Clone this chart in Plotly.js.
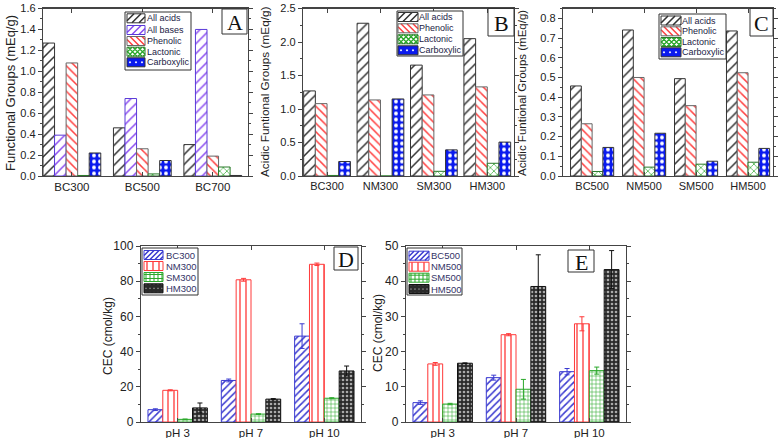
<!DOCTYPE html>
<html><head><meta charset="utf-8">
<script src="https://cdn.plot.ly/plotly-3.0.1.min.js"></script>
<style>html,body{margin:0;padding:0;background:#fff}#chart{width:780px;height:438px}</style>
</head><body><div id="chart"></div>
<script>
// ---------- DATA ----------
// Panel A
const catsA = ['BC300', 'BC500', 'BC700'];
const acidsA = [1.27, 0.46, 0.30];
const basesA = [0.39, 0.74, 1.40];
const phenolicA = [1.08, 0.26, 0.19];
const lactonicA = [0.005, 0.02, 0.086];
const carboxylicA = [0.22, 0.148, 0.005];
const yTicksA = [0, 0.2, 0.4, 0.6, 0.8, 1.0, 1.2, 1.4, 1.6];
const yTickTextA = ['0.0', '0.2', '0.4', '0.6', '0.8', '1.0', '1.2', '1.4', '1.6'];
// Panel B
const catsB = ['BC300', 'NM300', 'SM300', 'HM300'];
const acidsB = [1.27, 2.28, 1.655, 2.05];
const phenolicB = [1.08, 1.135, 1.21, 1.33];
const lactonicB = [0.008, 0.0, 0.07, 0.19];
const carboxylicB = [0.216, 1.15, 0.39, 0.506];
const yTicksB = [0, 0.5, 1.0, 1.5, 2.0, 2.5];
const yTickTextB = ['0.0', '0.5', '1.0', '1.5', '2.0', '2.5'];
// Panel C
const catsC = ['BC500', 'NM500', 'SM500', 'HM500'];
const acidsC = [0.457, 0.741, 0.494, 0.736];
const phenolicC = [0.265, 0.50, 0.357, 0.524];
const lactonicC = [0.023, 0.045, 0.06, 0.07];
const carboxylicC = [0.145, 0.217, 0.075, 0.14];
const yTicksC = [0, 0.1, 0.2, 0.3, 0.4, 0.5, 0.6, 0.7, 0.8];
const yTickTextC = ['0.0', '0.1', '0.2', '0.3', '0.4', '0.5', '0.6', '0.7', '0.8'];
// Panel D
const phCats = ['pH 3', 'pH 7', 'pH 10'];
const bc300 = [7.0, 23.6, 48.8];  const bc300Err = [0.5, 0.8, 7.0];
const nm300 = [18.0, 80.8, 89.6]; const nm300Err = [0.3, 0.8, 0.7];
const sm300 = [1.5, 4.5, 13.5];   const sm300Err = [0.2, 0.2, 0.3];
const hm300 = [8.0, 13.0, 29.0];  const hm300Err = [2.8, 0.3, 2.8];
const yTicksD = [0, 20, 40, 60, 80, 100];
// Panel E
const bc500 = [5.5, 12.6, 14.3];  const bc500Err = [0.5, 0.7, 0.9];
const nm500 = [16.5, 24.8, 27.9]; const nm500Err = [0.4, 0.3, 2.0];
const sm500 = [5.1, 9.3, 14.6];   const sm500Err = [0.2, 2.8, 1.0];
const hm500 = [16.7, 38.5, 43.3]; const hm500Err = [0.1, 9.0, 5.4];
const yTicksE = [0, 10, 20, 30, 40, 50];

// ---------- STYLES ----------
const ST = {
  acids:  {bg:'#ffffff', fg:'#333333', shape:'/',  size:7, sol:0.22, line:'#333333'},
  bases:  {bg:'#ffffff', fg:'#8a4cf0', shape:'/',  size:7, sol:0.22, line:'#5a3ad8'},
  phen:   {bg:'#ffffff', fg:'#ff4040', shape:'\\', size:6, sol:0.25, line:'#666666'},
  lact:   {bg:'#ffffff', fg:'#2aa82a', shape:'x',  size:5, sol:0.25, line:'#2a7a2a'},
  carb:   {bg:'#0a1aee', fg:'#ffffff', shape:'.',  size:6, sol:0.32, line:'#333333'},
  BC:     {bg:'#ffffff', fg:'#3a3ad0', shape:'/',  size:5, sol:0.3, line:'#3a3ad0'},
  NM:     {bg:'#ffffff', fg:'#ff3a3a', shape:'|',  size:6, sol:0.22, line:'#ff3a3a'},
  SM:     {bg:'#ffffff', fg:'#2aa82a', shape:'+',  size:4, sol:0.25, line:'#2aa82a'},
  HM:     {bg:'#2a2a2a', fg:'#aaaaaa', shape:'.',  size:4, sol:0.35, line:'#111111'}
};

const W = 780, H = 438;
const px = x => x / W, py = y => 1 - y / H;

function bar(x, y, st, n, i, gw, ax, err) {
  const w = gw / n;
  const t = {
    type:'bar', x:x, y:y, xaxis:'x'+ax, yaxis:'y'+ax,
    width:w, offset:-gw/2 + i*w, showlegend:false, hoverinfo:'skip',
    marker:{color:st.bg, line:{color:st.line, width:1},
      pattern:{shape:st.shape, bgcolor:st.bg, fgcolor:st.fg, size:st.size, solidity:st.sol, fillmode:'replace'}}
  };
  if (err) t.error_y = {type:'data', array:err, visible:true, color:st.line, thickness:1, width:2.5};
  return t;
}

const data = [
  bar(catsA, acidsA, ST.acids, 5, 0, 0.82, ''),
  bar(catsA, basesA, ST.bases, 5, 1, 0.82, ''),
  bar(catsA, phenolicA, ST.phen, 5, 2, 0.82, ''),
  bar(catsA, lactonicA, ST.lact, 5, 3, 0.82, ''),
  bar(catsA, carboxylicA, ST.carb, 5, 4, 0.82, ''),
  bar(catsB, acidsB, ST.acids, 4, 0, 0.875, '2'),
  bar(catsB, phenolicB, ST.phen, 4, 1, 0.875, '2'),
  bar(catsB, lactonicB, ST.lact, 4, 2, 0.875, '2'),
  bar(catsB, carboxylicB, ST.carb, 4, 3, 0.875, '2'),
  bar(catsC, acidsC, ST.acids, 4, 0, 0.83, '3'),
  bar(catsC, phenolicC, ST.phen, 4, 1, 0.83, '3'),
  bar(catsC, lactonicC, ST.lact, 4, 2, 0.83, '3'),
  bar(catsC, carboxylicC, ST.carb, 4, 3, 0.83, '3'),
  bar(phCats, bc300, ST.BC, 4, 0, 0.81, '4', bc300Err),
  bar(phCats, nm300, ST.NM, 4, 1, 0.81, '4', nm300Err),
  bar(phCats, sm300, ST.SM, 4, 2, 0.81, '4', sm300Err),
  bar(phCats, hm300, ST.HM, 4, 3, 0.81, '4', hm300Err),
  bar(phCats, bc500, ST.BC, 4, 0, 0.81, '5', bc500Err),
  bar(phCats, nm500, ST.NM, 4, 1, 0.81, '5', nm500Err),
  bar(phCats, sm500, ST.SM, 4, 2, 0.81, '5', sm500Err),
  bar(phCats, hm500, ST.HM, 4, 3, 0.81, '5', hm500Err)
];

const FONT = 'Liberation Sans, Arial, sans-serif';
function xax(x0, x1, range, anchor, fs) {
  return {domain:[px(x0), px(x1)], anchor:anchor, type:'category', range:range,
    showline:true, linecolor:'#444', linewidth:1.2, mirror:'ticks',
    ticks:'inside', ticklen:4, tickcolor:'#444', showgrid:false, zeroline:false,
    tickfont:{family:FONT, size:fs, color:'#222'}, fixedrange:true};
}
function yax(y0, y1, range, vals, text, anchor, fs) {
  return {domain:[py(y1), py(y0)], anchor:anchor, range:range,
    tickmode:'array', tickvals:vals, ticktext:text,
    showline:true, linecolor:'#444', linewidth:1.2, mirror:'ticks',
    ticks:'outside', ticklen:4, tickcolor:'#444', showgrid:false, zeroline:false,
    minor:{ticks:'outside', ticklen:2, tickcolor:'#444', showgrid:false},
    tickfont:{family:FONT, size:fs, color:'#222'}, fixedrange:true};
}

const TOP = 8.5;   // top of the three upper panels (keeps the top tick label inside the page)
const layout = {
  width:W, height:H, margin:{l:0, r:0, t:0, b:0},
  paper_bgcolor:'#fff', plot_bgcolor:'#fff', barmode:'overlay', showlegend:false,
  font:{family:FONT, color:'#222'},
  xaxis:  xax(43, 248, [-0.41, 2.5], 'y', 11.5),
  yaxis:  yax(TOP, 176, [0, 1.6], yTicksA, yTickTextA, 'x', 11),
  xaxis2: xax(303, 514, [-0.45, 3.5], 'y2', 11),
  yaxis2: yax(TOP, 176, [0, 2.5], yTicksB, yTickTextB, 'x2', 11),
  xaxis3: xax(563, 773, [-0.56, 3.48], 'y3', 11),
  yaxis3: yax(TOP, 176, [0, 0.85], yTicksC, yTickTextC, 'x3', 11),
  xaxis4: xax(141, 361, [-0.5, 2.5], 'y4', 11.5),
  yaxis4: yax(246, 422, [0, 100], yTicksD, yTicksD.map(String), 'x4', 12),
  xaxis5: xax(406, 626, [-0.5, 2.5], 'y5', 11.5),
  yaxis5: yax(246, 422, [0, 50], yTicksE, yTicksE.map(String), 'x5', 12),
  annotations:[], shapes:[]
};
// minor tick spacing
layout.yaxis.minor.dtick = 0.1; layout.yaxis2.minor.dtick = 0.25; layout.yaxis3.minor.dtick = 0.05;
layout.yaxis4.minor.dtick = 10; layout.yaxis5.minor.dtick = 5;

// y-axis titles
function ytitle(text, x, y, fs) {
  layout.annotations.push({text:text, xref:'paper', yref:'paper', x:px(x), y:py(y),
    xanchor:'center', yanchor:'middle', textangle:-90, showarrow:false,
    font:{family:FONT, size:fs, color:'#222'}});
}
ytitle('Functional Groups (mEq/g)', 11, 93, 13);
ytitle('Acidic Funtional Groups (mEq/g)', 265, 92, 11.8);
ytitle('Acidic Funtional Groups (mEq/g)', 522, 93, 11.5);
ytitle('CEC (cmol/kg)', 108, 336, 12);
ytitle('CEC (cmol/kg)', 378, 333, 12);

// panel letters
function letter(t, x0, y0, x1, y1) {
  layout.shapes.push({type:'rect', xref:'paper', yref:'paper', x0:px(x0), x1:px(x1), y0:py(y0), y1:py(y1),
    line:{color:'#333', width:1}, fillcolor:'#fff', layer:'above'});
  layout.annotations.push({text:t, xref:'paper', yref:'paper', x:px((x0+x1)/2), y:py((y0+y1)/2 + 1),
    xanchor:'center', yanchor:'middle', showarrow:false,
    font:{family:'Liberation Serif, Times New Roman, serif', size:22, color:'#111'}});
}
letter('A', 222, 9, 247, 34);
letter('B', 488, 8.5, 514, 36);
letter('C', 750, 8.5, 773, 36);
letter('D', 334, 247, 358, 270);
letter('E', 568, 250, 594, 272);

// manual legends: swatches built from shapes (pixel -> paper)
const P = (x, y) => px(x).toFixed(5) + ',' + py(y).toFixed(5);
function swatch(st, x0, y0, w, h) {
  const x1 = x0 + w, y1 = y0 + h, z = st.size, lw = Math.max(0.8, st.sol * z);
  layout.shapes.push({type:'rect', xref:'paper', yref:'paper', x0:px(x0), x1:px(x1), y0:py(y1), y1:py(y0),
    line:{width:0}, fillcolor:st.bg, layer:'above'});
  let path = '';
  const seg = (ax, ay, bx, by) => { path += 'M' + P(ax, ay) + 'L' + P(bx, by); };
  if (st.shape === '/' || st.shape === 'x') {
    for (let k = -h; k < w; k += z) {
      const t0 = Math.max(0, -k), t1 = Math.min(h, w - k);
      if (t1 > t0) seg(x0 + k + t0, y1 - t0, x0 + k + t1, y1 - t1);
    }
  }
  if (st.shape === '\\' || st.shape === 'x') {
    for (let k = -h; k < w; k += z) {
      const t0 = Math.max(0, -k), t1 = Math.min(h, w - k);
      if (t1 > t0) seg(x0 + k + t0, y0 + t0, x0 + k + t1, y0 + t1);
    }
  }
  if (st.shape === '|' || st.shape === '+') for (let k = z/2; k < w; k += z) seg(x0 + k, y0, x0 + k, y1);
  if (st.shape === '+') for (let k = z/2; k < h; k += z) seg(x0, y0 + k, x1, y0 + k);
  if (path) layout.shapes.push({type:'path', xref:'paper', yref:'paper', path:path,
    line:{color:st.fg, width:lw}, layer:'above'});
  if (st.shape === '.') {
    let dp = '';
    const r = Math.max(0.8, st.sol * z / 1.6);
    for (let a = x0 + z/2; a < x1; a += z) for (let b = y0 + h/2 - Math.floor(h/2/z)*z; b < y1; b += z) {
      const rr = Math.min(r, a - x0, x1 - a, b - y0, y1 - b);
      if (rr <= 0.3) continue;
      dp += 'M' + P(a - rr, b) + 'L' + P(a, b - rr) + 'L' + P(a + rr, b) + 'L' + P(a, b + rr) + 'Z';
    }
    if (dp) layout.shapes.push({type:'path', xref:'paper', yref:'paper', path:dp,
      line:{width:0}, fillcolor:st.fg, layer:'above'});
  }
  layout.shapes.push({type:'rect', xref:'paper', yref:'paper', x0:px(x0), x1:px(x1), y0:py(y1), y1:py(y0),
    line:{color:st.line, width:1}, fillcolor:'rgba(0,0,0,0)', layer:'above'});
}
function legend(box, items, sx0, sx1, tx, rows, sh, fs, tcolor) {
  layout.shapes.push({type:'rect', xref:'paper', yref:'paper', x0:px(box[0]), x1:px(box[1]), y0:py(box[3]), y1:py(box[2]),
    line:{color:'#333', width:1}, fillcolor:'#fff', layer:'above'});
  items.forEach((it, i) => {
    swatch(it[1], sx0, rows[i] - sh/2, sx1 - sx0, sh);
    layout.annotations.push({text:it[0], xref:'paper', yref:'paper', x:px(tx - 1), y:py(rows[i]),
      xanchor:'left', yanchor:'middle', showarrow:false,
      font:{family:FONT, size:fs, color:tcolor}});
  });
}
legend([125, 191, 12, 70], [['All acids', ST.acids], ['All bases', ST.bases], ['Phenolic', ST.phen], ['Lactonic', ST.lact], ['Carboxylic', ST.carb]],
  127, 145, 146, [18.3, 30, 41, 51.7, 62.3], 9, 9, '#222244');
legend([397, 463, 11, 56], [['All acids', ST.acids], ['Phenolic', ST.phen], ['Lactonic', ST.lact], ['Carboxylic', ST.carb]],
  398, 418, 418, [17, 28.3, 39.3, 50.3], 9, 9, '#222244');
legend([659, 726, 14, 59], [['All acids', ST.acids], ['Phenolic', ST.phen], ['Lactonic', ST.lact], ['Carboxylic', ST.carb]],
  661, 681, 681, [20.5, 31.3, 42, 52.3], 9, 9, '#222244');
legend([142, 198, 248, 295], [['BC300', ST.BC], ['NM300', ST.NM], ['SM300', ST.SM], ['HM300', ST.HM]],
  144, 163, 165, [255, 266, 277, 288.3], 9, 9.5, '#333366');
legend([407, 462, 248, 295], [['BC500', ST.BC], ['NM500', ST.NM], ['SM500', ST.SM], ['HM500', ST.HM]],
  409, 429, 430, [255.7, 266.7, 277.7, 289], 9, 9.5, '#333366');

Plotly.newPlot('chart', data, layout, {staticPlot:true, displayModeBar:false});
</script>
</body></html>
